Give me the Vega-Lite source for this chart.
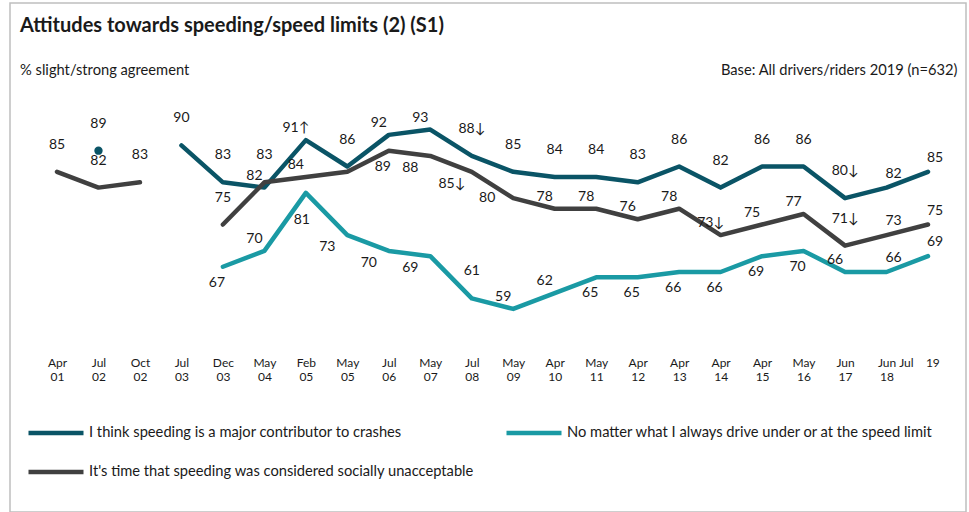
{
  "$schema": "https://vega.github.io/schema/vega-lite/v6.json",
  "width": 956,
  "height": 509,
  "autosize": {"type": "none"},
  "padding": {"left": 10, "top": 3, "right": 3, "bottom": 0},
  "background": "white",
  "config": {
    "view": {"stroke": "#bfbfbf", "strokeWidth": 1.5},
    "font": "Lato",
    "text": {"font": "Lato"}
  },
  "title": {
    "text": "Attitudes towards speeding/speed limits (2) (S1)",
    "subtitle": "% slight/strong agreement",
    "anchor": "start",
    "frame": "group",
    "offset": -75,
    "dx": 10,
    "fontSize": 20,
    "fontWeight": "bold",
    "font": "Lato",
    "color": "#1a1a1a",
    "subtitleFont": "Lato",
    "subtitleFontSize": 14.7,
    "subtitleColor": "#1a1a1a",
    "subtitlePadding": 27
  },
  "data": {
    "values": [
      {"date": "Jul 02", "k": "crash", "series": "I think speeding is a major contributor to crashes", "value": 89, "label": "89"},
      {"date": "Oct 02", "k": "crash", "series": "I think speeding is a major contributor to crashes", "value": null, "label": null},
      {"date": "Jul 03", "k": "crash", "series": "I think speeding is a major contributor to crashes", "value": 90, "label": "90"},
      {"date": "Dec 03", "k": "crash", "series": "I think speeding is a major contributor to crashes", "value": 83, "label": "83"},
      {"date": "May 04", "k": "crash", "series": "I think speeding is a major contributor to crashes", "value": 82, "label": "82"},
      {"date": "Feb 05", "k": "crash", "series": "I think speeding is a major contributor to crashes", "value": 91, "label": "91↑"},
      {"date": "May 05", "k": "crash", "series": "I think speeding is a major contributor to crashes", "value": 86, "label": "86"},
      {"date": "Jul 06", "k": "crash", "series": "I think speeding is a major contributor to crashes", "value": 92, "label": "92"},
      {"date": "May 07", "k": "crash", "series": "I think speeding is a major contributor to crashes", "value": 93, "label": "93"},
      {"date": "Jul 08", "k": "crash", "series": "I think speeding is a major contributor to crashes", "value": 88, "label": "88↓"},
      {"date": "May 09", "k": "crash", "series": "I think speeding is a major contributor to crashes", "value": 85, "label": "85"},
      {"date": "Apr 10", "k": "crash", "series": "I think speeding is a major contributor to crashes", "value": 84, "label": "84"},
      {"date": "May 11", "k": "crash", "series": "I think speeding is a major contributor to crashes", "value": 84, "label": "84"},
      {"date": "Apr 12", "k": "crash", "series": "I think speeding is a major contributor to crashes", "value": 83, "label": "83"},
      {"date": "Apr 13", "k": "crash", "series": "I think speeding is a major contributor to crashes", "value": 86, "label": "86"},
      {"date": "Apr 14", "k": "crash", "series": "I think speeding is a major contributor to crashes", "value": 82, "label": "82"},
      {"date": "Apr 15", "k": "crash", "series": "I think speeding is a major contributor to crashes", "value": 86, "label": "86"},
      {"date": "May 16", "k": "crash", "series": "I think speeding is a major contributor to crashes", "value": 86, "label": "86"},
      {"date": "Jun 17", "k": "crash", "series": "I think speeding is a major contributor to crashes", "value": 80, "label": "80↓"},
      {"date": "Jun 18", "k": "crash", "series": "I think speeding is a major contributor to crashes", "value": 82, "label": "82"},
      {"date": "Jul 19", "k": "crash", "series": "I think speeding is a major contributor to crashes", "value": 85, "label": "85"},

      {"date": "Dec 03", "k": "limit", "series": "No matter what I always drive under or at the speed limit", "value": 67, "label": "67"},
      {"date": "May 04", "k": "limit", "series": "No matter what I always drive under or at the speed limit", "value": 70, "label": "70"},
      {"date": "Feb 05", "k": "limit", "series": "No matter what I always drive under or at the speed limit", "value": 81, "label": "81"},
      {"date": "May 05", "k": "limit", "series": "No matter what I always drive under or at the speed limit", "value": 73, "label": "73"},
      {"date": "Jul 06", "k": "limit", "series": "No matter what I always drive under or at the speed limit", "value": 70, "label": "70"},
      {"date": "May 07", "k": "limit", "series": "No matter what I always drive under or at the speed limit", "value": 69, "label": "69"},
      {"date": "Jul 08", "k": "limit", "series": "No matter what I always drive under or at the speed limit", "value": 61, "label": "61"},
      {"date": "May 09", "k": "limit", "series": "No matter what I always drive under or at the speed limit", "value": 59, "label": "59"},
      {"date": "Apr 10", "k": "limit", "series": "No matter what I always drive under or at the speed limit", "value": 62, "label": "62"},
      {"date": "May 11", "k": "limit", "series": "No matter what I always drive under or at the speed limit", "value": 65, "label": "65"},
      {"date": "Apr 12", "k": "limit", "series": "No matter what I always drive under or at the speed limit", "value": 65, "label": "65"},
      {"date": "Apr 13", "k": "limit", "series": "No matter what I always drive under or at the speed limit", "value": 66, "label": "66"},
      {"date": "Apr 14", "k": "limit", "series": "No matter what I always drive under or at the speed limit", "value": 66, "label": "66"},
      {"date": "Apr 15", "k": "limit", "series": "No matter what I always drive under or at the speed limit", "value": 69, "label": "69"},
      {"date": "May 16", "k": "limit", "series": "No matter what I always drive under or at the speed limit", "value": 70, "label": "70"},
      {"date": "Jun 17", "k": "limit", "series": "No matter what I always drive under or at the speed limit", "value": 66, "label": "66"},
      {"date": "Jun 18", "k": "limit", "series": "No matter what I always drive under or at the speed limit", "value": 66, "label": "66"},
      {"date": "Jul 19", "k": "limit", "series": "No matter what I always drive under or at the speed limit", "value": 69, "label": "69"},

      {"date": "Apr 01", "k": "social", "series": "It's time that speeding was considered socially unacceptable", "value": 85, "label": "85"},
      {"date": "Jul 02", "k": "social", "series": "It's time that speeding was considered socially unacceptable", "value": 82, "label": "82"},
      {"date": "Oct 02", "k": "social", "series": "It's time that speeding was considered socially unacceptable", "value": 83, "label": "83"},
      {"date": "Jul 03", "k": "social", "series": "It's time that speeding was considered socially unacceptable", "value": null, "label": null},
      {"date": "Dec 03", "k": "social", "series": "It's time that speeding was considered socially unacceptable", "value": 75, "label": "75"},
      {"date": "May 04", "k": "social", "series": "It's time that speeding was considered socially unacceptable", "value": 83, "label": "83"},
      {"date": "Feb 05", "k": "social", "series": "It's time that speeding was considered socially unacceptable", "value": 84, "label": "84"},
      {"date": "May 05", "k": "social", "series": "It's time that speeding was considered socially unacceptable", "value": 85, "label": null},
      {"date": "Jul 06", "k": "social", "series": "It's time that speeding was considered socially unacceptable", "value": 89, "label": "89"},
      {"date": "May 07", "k": "social", "series": "It's time that speeding was considered socially unacceptable", "value": 88, "label": "88"},
      {"date": "Jul 08", "k": "social", "series": "It's time that speeding was considered socially unacceptable", "value": 85, "label": "85↓"},
      {"date": "May 09", "k": "social", "series": "It's time that speeding was considered socially unacceptable", "value": 80, "label": "80"},
      {"date": "Apr 10", "k": "social", "series": "It's time that speeding was considered socially unacceptable", "value": 78, "label": "78"},
      {"date": "May 11", "k": "social", "series": "It's time that speeding was considered socially unacceptable", "value": 78, "label": "78"},
      {"date": "Apr 12", "k": "social", "series": "It's time that speeding was considered socially unacceptable", "value": 76, "label": "76"},
      {"date": "Apr 13", "k": "social", "series": "It's time that speeding was considered socially unacceptable", "value": 78, "label": "78"},
      {"date": "Apr 14", "k": "social", "series": "It's time that speeding was considered socially unacceptable", "value": 73, "label": "73↓"},
      {"date": "Apr 15", "k": "social", "series": "It's time that speeding was considered socially unacceptable", "value": 75, "label": "75"},
      {"date": "May 16", "k": "social", "series": "It's time that speeding was considered socially unacceptable", "value": 77, "label": "77"},
      {"date": "Jun 17", "k": "social", "series": "It's time that speeding was considered socially unacceptable", "value": 71, "label": "71↓"},
      {"date": "Jun 18", "k": "social", "series": "It's time that speeding was considered socially unacceptable", "value": 73, "label": "73"},
      {"date": "Jul 19", "k": "social", "series": "It's time that speeding was considered socially unacceptable", "value": 75, "label": "75"}
    ]
  },
  "encoding": {
    "x": {
      "field": "date",
      "type": "ordinal",
      "scale": {
        "type": "point",
        "domain": ["Apr 01", "Jul 02", "Oct 02", "Jul 03", "Dec 03", "May 04", "Feb 05", "May 05", "Jul 06", "May 07", "Jul 08", "May 09", "Apr 10", "May 11", "Apr 12", "Apr 13", "Apr 14", "Apr 15", "May 16", "Jun 17", "Jun 18", "Jul 19"],
        "range": [47, 918],
        "padding": 0
      },
      "axis": {
        "orient": "bottom",
        "offset": -157,
        "domain": false,
        "ticks": false,
        "grid": false,
        "labelAngle": 0,
        "labelPadding": 2,
        "labelFont": "Lato",
        "labelFontSize": 12,
        "labelLineHeight": 14,
        "labelBaseline": "top",
        "labelColor": "#1a1a1a",
        "labelOverlap": false,
        "labelExpr": "datum.value == 'Jul 19' ? 'Jul\u00a0\u00a0\u00a0\u00a019\u2800\u2800' : split(datum.value, ' ')",
        "title": "Base: All drivers/riders 2019 (n=632)",
        "titleX": 947,
        "titleY": -281,
        "titleAlign": "right",
        "titleAnchor": null,
        "titleBaseline": "alphabetic",
        "titleFont": "Lato",
        "titleFontWeight": "normal",
        "titleFontSize": 14.7,
        "titleColor": "#1a1a1a"
      }
    },
    "y": {
      "field": "value",
      "type": "quantitative",
      "scale": {"domain": [20.5, 117], "zero": false, "nice": false},
      "axis": null
    }
  },
  "layer": [
    {
      "mark": {"type": "line", "strokeWidth": 4.5, "strokeCap": "round", "strokeJoin": "round", "invalid": "break-paths-filter-domains"},
      "encoding": {
        "color": {
          "field": "series",
          "type": "nominal",
          "scale": {
            "domain": ["I think speeding is a major contributor to crashes", "It's time that speeding was considered socially unacceptable", "No matter what I always drive under or at the speed limit"],
            "range": ["#0a5466", "#404040", "#1a9aa4"]
          },
          "legend": {
            "title": null,
            "orient": "none",
            "legendX": 16,
            "legendY": 400,
            "columns": 2,
            "columnPadding": 23,
            "rowPadding": -4,
            "symbolType": "stroke",
            "symbolSize": 3025,
            "symbolStrokeWidth": 4.5,
            "labelFont": "Lato",
            "labelFontSize": 14.7,
            "labelColor": "#1a1a1a",
            "labelLimit": 700,
            "labelOffset": 3
          }
        }
      }
    },
    {
      "transform": [{"filter": "datum.k == 'crash' && datum.date == 'Jul 02'"}],
      "mark": {"type": "point", "filled": true, "size": 70, "opacity": 1, "color": "#0a5466"}
    },
    {
      "transform": [{"filter": "indexof(['crash|Jul 02','crash|Jul 03','crash|Dec 03','crash|May 05','crash|Jul 08','crash|May 09','crash|Apr 10','crash|May 11','crash|Apr 12','crash|Apr 13','crash|Apr 14','crash|Apr 15','crash|May 16','crash|Jun 17','social|Apr 01','social|Jul 02','social|Oct 02','social|Dec 03','social|May 04','social|Jun 17','limit|Jul 08'], datum.k + '|' + datum.date) >= 0"}],
      "mark": {"type": "text", "fontSize": 14, "color": "#1a1a1a", "baseline": "middle", "dx": 0, "dy": -27},
      "encoding": {"text": {"field": "label"}}
    },
    {
      "transform": [{"filter": "indexof(['crash|May 04','crash|Feb 05','crash|Jul 06','crash|May 07','social|Feb 05','social|Apr 10','social|May 11','social|Apr 12','social|Apr 13','social|Apr 14','social|Apr 15','social|May 16','limit|May 04','limit|May 09','limit|Apr 10','limit|Jun 17'], datum.k + '|' + datum.date) >= 0"}],
      "mark": {"type": "text", "fontSize": 14, "color": "#1a1a1a", "baseline": "middle", "dx": -10, "dy": -12},
      "encoding": {"text": {"field": "label"}}
    },
    {
      "transform": [{"filter": "indexof(['crash|Jun 18','crash|Jul 19','social|Jun 18','social|Jul 19','limit|Jun 18','limit|Jul 19'], datum.k + '|' + datum.date) >= 0"}],
      "mark": {"type": "text", "fontSize": 14, "color": "#1a1a1a", "baseline": "middle", "dx": 7, "dy": -14},
      "encoding": {"text": {"field": "label"}}
    },
    {
      "transform": [{"filter": "indexof(['social|Jul 06','limit|Dec 03','limit|May 11','limit|Apr 12','limit|Apr 13','limit|Apr 14','limit|Apr 15','limit|May 16'], datum.k + '|' + datum.date) >= 0"}],
      "mark": {"type": "text", "fontSize": 14, "color": "#1a1a1a", "baseline": "middle", "dx": -6, "dy": 16},
      "encoding": {"text": {"field": "label"}}
    },
    {
      "transform": [{"filter": "indexof(['social|May 07','social|Jul 08','limit|May 05','limit|Jul 06','limit|May 07'], datum.k + '|' + datum.date) >= 0"}],
      "mark": {"type": "text", "fontSize": 14, "color": "#1a1a1a", "baseline": "middle", "dx": -20, "dy": 12},
      "encoding": {"text": {"field": "label"}}
    },
    {
      "transform": [{"filter": "datum.k == 'social' && datum.date == 'May 09'"}],
      "mark": {"type": "text", "fontSize": 14, "color": "#1a1a1a", "baseline": "middle", "dx": -26, "dy": 0},
      "encoding": {"text": {"field": "label"}}
    },
    {
      "transform": [{"filter": "datum.k == 'limit' && datum.date == 'Feb 05'"}],
      "mark": {"type": "text", "fontSize": 14, "color": "#1a1a1a", "baseline": "middle", "dx": -4, "dy": 27},
      "encoding": {"text": {"field": "label"}}
    }
  ]
}
